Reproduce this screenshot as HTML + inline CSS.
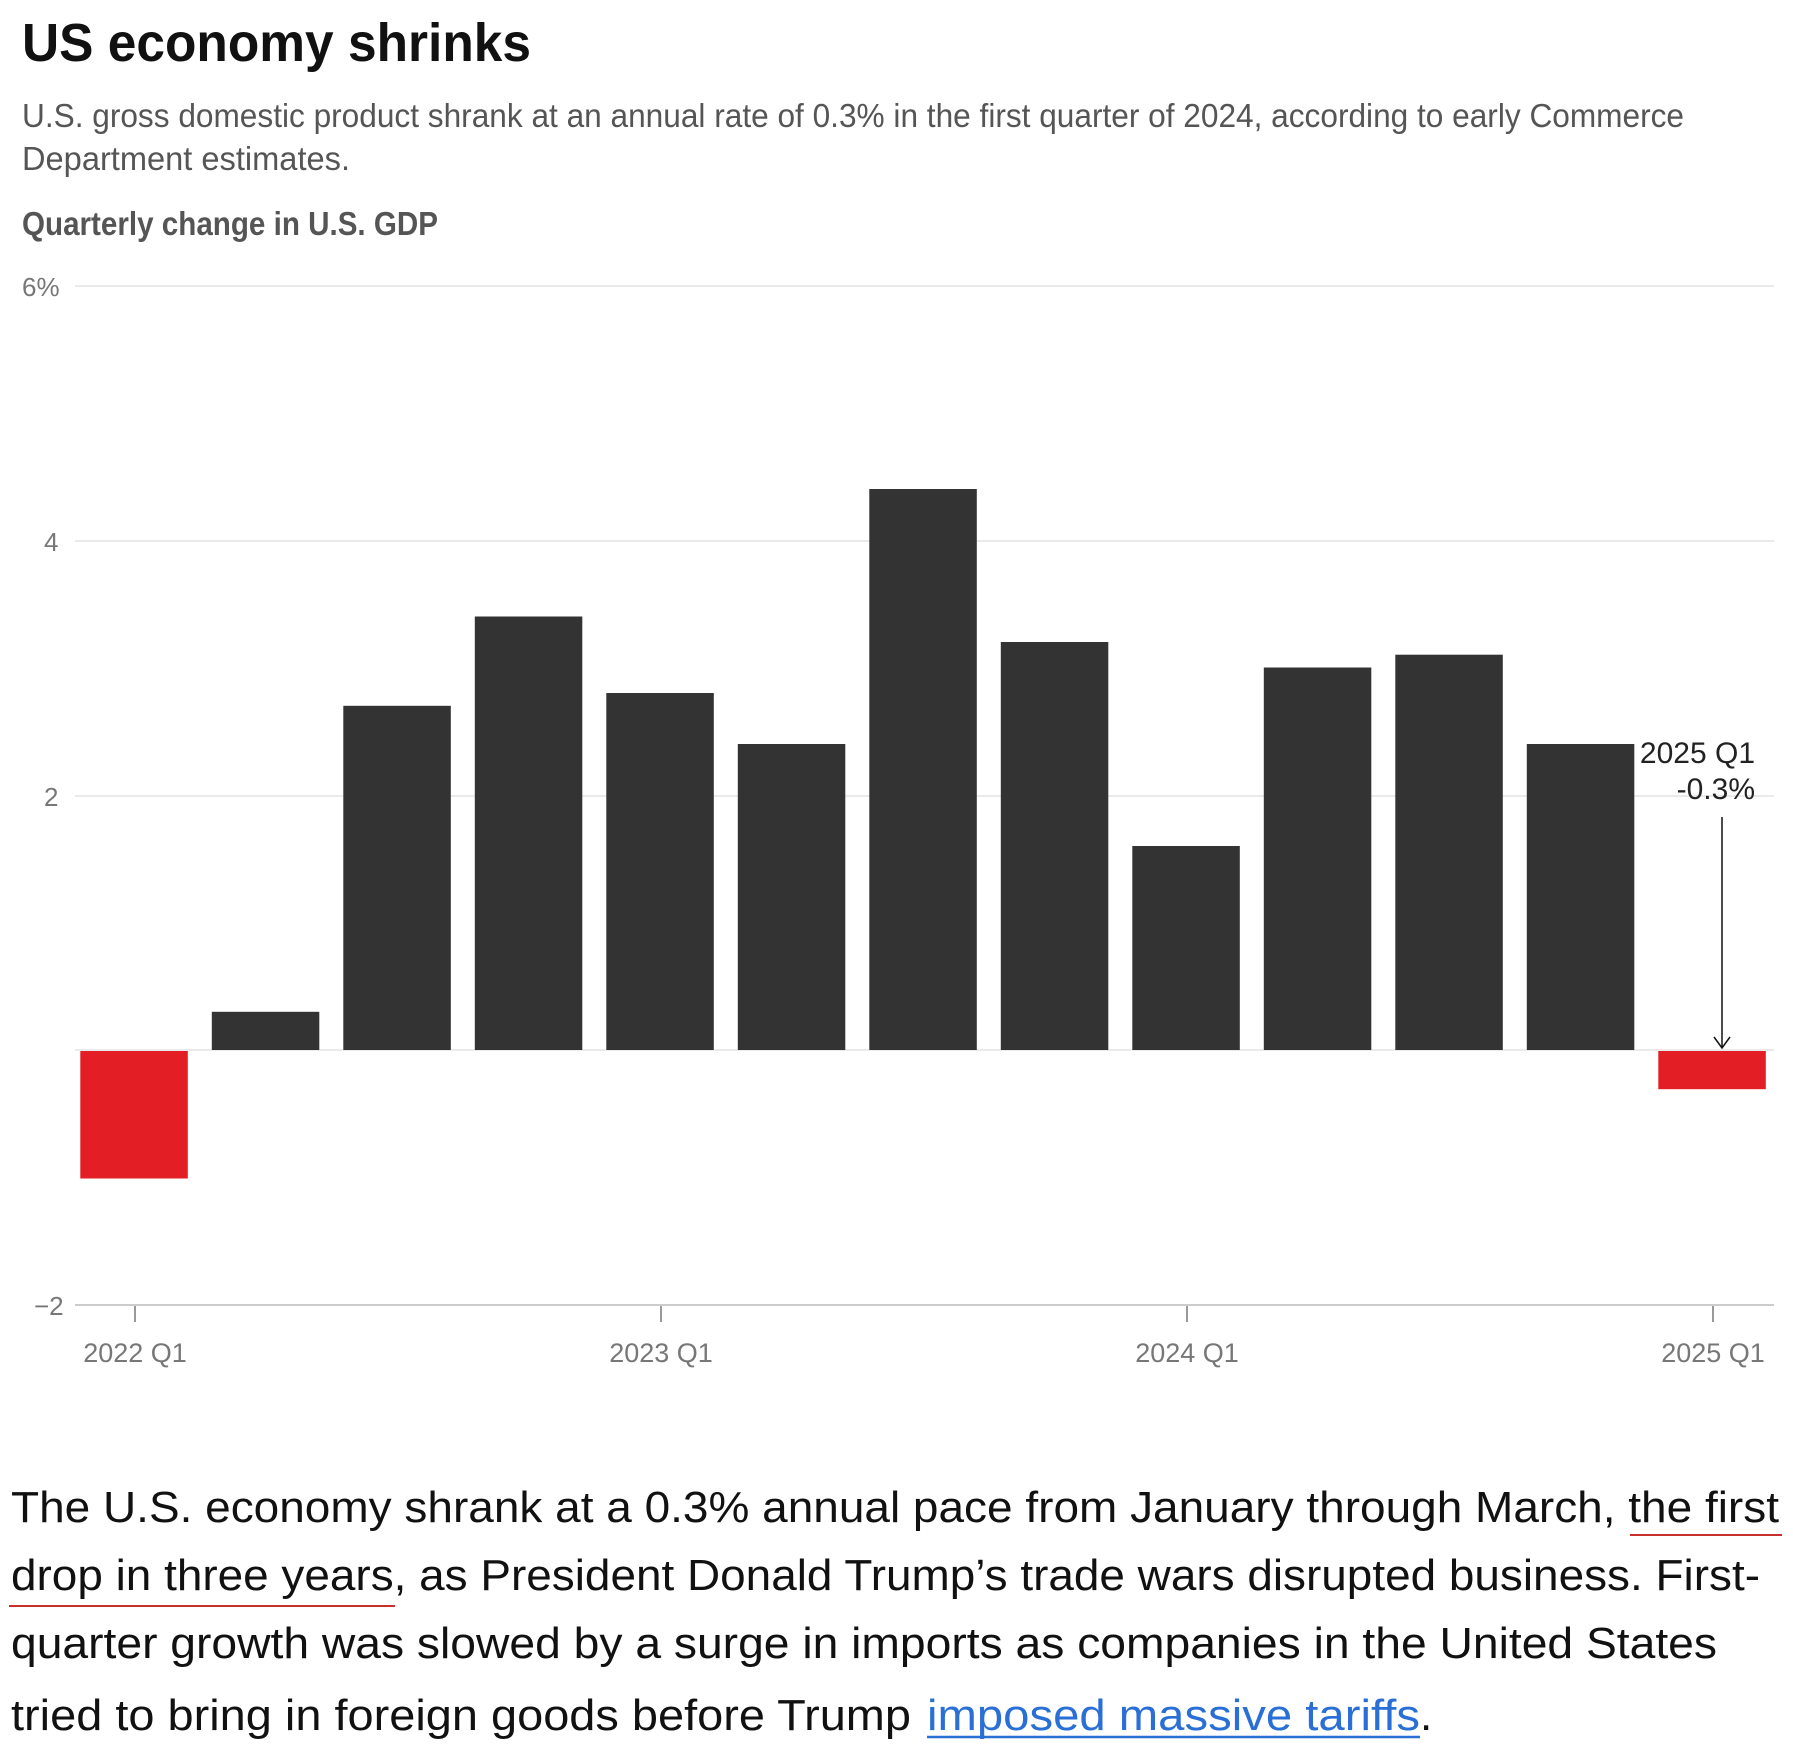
<!DOCTYPE html>
<html><head><meta charset="utf-8"><style>
html,body{margin:0;padding:0;background:#fff;}
svg{display:block;}
</style></head><body>
<svg width="1793" height="1751" viewBox="0 0 1793 1751" xmlns="http://www.w3.org/2000/svg" font-family="Liberation Sans, sans-serif">
<text x="22" y="61" font-size="54" font-weight="bold" fill="#111" textLength="509" lengthAdjust="spacingAndGlyphs">US economy shrinks</text>
<text x="22" y="127" font-size="33" fill="#555" textLength="1662" lengthAdjust="spacingAndGlyphs">U.S. gross domestic product shrank at an annual rate of 0.3% in the first quarter of 2024, according to early Commerce</text>
<text x="22" y="170" font-size="33" fill="#555" textLength="328" lengthAdjust="spacingAndGlyphs">Department estimates.</text>
<text x="22" y="235" font-size="33" font-weight="bold" fill="#555" textLength="416" lengthAdjust="spacingAndGlyphs">Quarterly change in U.S. GDP</text>
<g stroke="#e4e4e4" stroke-width="1.5">
<line x1="75" y1="286" x2="1774" y2="286"/>
<line x1="75" y1="541" x2="1774" y2="541"/>
<line x1="75" y1="796" x2="1774" y2="796"/>
<line x1="75" y1="1050" x2="1774" y2="1050"/>
</g>
<line x1="75" y1="1305" x2="1774" y2="1305" stroke="#ccc" stroke-width="2"/>
<g font-size="26" fill="#777">
<text x="22" y="296">6%</text>
<text x="44" y="551">4</text>
<text x="44" y="806">2</text>
<text x="34" y="1315">−2</text>
</g>
<g fill="#333">
<rect x="211.8" y="1011.8" width="107.5" height="38.2"/>
<rect x="343.3" y="705.8" width="107.5" height="344.2"/>
<rect x="474.8" y="616.5" width="107.5" height="433.5"/>
<rect x="606.3" y="693" width="107.5" height="357"/>
<rect x="737.8" y="744" width="107.5" height="306"/>
<rect x="869.3" y="489" width="107.5" height="561"/>
<rect x="1000.8" y="642" width="107.5" height="408"/>
<rect x="1132.3" y="846" width="107.5" height="204"/>
<rect x="1263.8" y="667.5" width="107.5" height="382.5"/>
<rect x="1395.3" y="654.7" width="107.5" height="395.3"/>
<rect x="1526.8" y="744" width="107.5" height="306"/>
</g>
<g fill="#e31e24">
<rect x="80.3" y="1051" width="107.5" height="127.5"/>
<rect x="1658.3" y="1051" width="107.5" height="38.2"/>
</g>
<g stroke="#999" stroke-width="2">
<line x1="135" y1="1306" x2="135" y2="1322"/>
<line x1="661" y1="1306" x2="661" y2="1322"/>
<line x1="1187" y1="1306" x2="1187" y2="1322"/>
<line x1="1713" y1="1306" x2="1713" y2="1322"/>
</g>
<g font-size="27" fill="#777" text-anchor="middle">
<text x="135" y="1362">2022 Q1</text>
<text x="661" y="1362">2023 Q1</text>
<text x="1187" y="1362">2024 Q1</text>
<text x="1713" y="1362">2025 Q1</text>
</g>
<g font-size="30" fill="#222" text-anchor="end">
<text x="1755" y="763">2025 Q1</text>
<text x="1755" y="799">-0.3%</text>
</g>
<line x1="1722" y1="817" x2="1722" y2="1048" stroke="#111" stroke-width="1.5"/>
<polyline points="1714,1037 1722,1048 1730,1037" fill="none" stroke="#111" stroke-width="1.5"/>
<g font-size="44" fill="#111">
<text x="11" y="1522" textLength="1768" lengthAdjust="spacingAndGlyphs">The U.S. economy shrank at a 0.3% annual pace from January through March, the first</text>
<text x="11" y="1590" textLength="1749" lengthAdjust="spacingAndGlyphs">drop in three years, as President Donald Trump’s trade wars disrupted business. First-</text>
<text x="11" y="1658" textLength="1706" lengthAdjust="spacingAndGlyphs">quarter growth was slowed by a surge in imports as companies in the United States</text>
<text x="11" y="1730" textLength="900" lengthAdjust="spacingAndGlyphs">tried to bring in foreign goods before Trump</text>
<text x="927" y="1730" fill="#2a6fd6" textLength="493" lengthAdjust="spacingAndGlyphs">imposed massive tariffs</text>
<text x="1420" y="1730">.</text>
</g>
<line x1="1630" y1="1535" x2="1782" y2="1535" stroke="#c8302c" stroke-width="2"/>
<line x1="9" y1="1606" x2="395" y2="1606" stroke="#c8302c" stroke-width="2"/>
<line x1="927" y1="1737" x2="1420" y2="1737" stroke="#2a6fd6" stroke-width="2.5"/>
</svg>
</body></html>
